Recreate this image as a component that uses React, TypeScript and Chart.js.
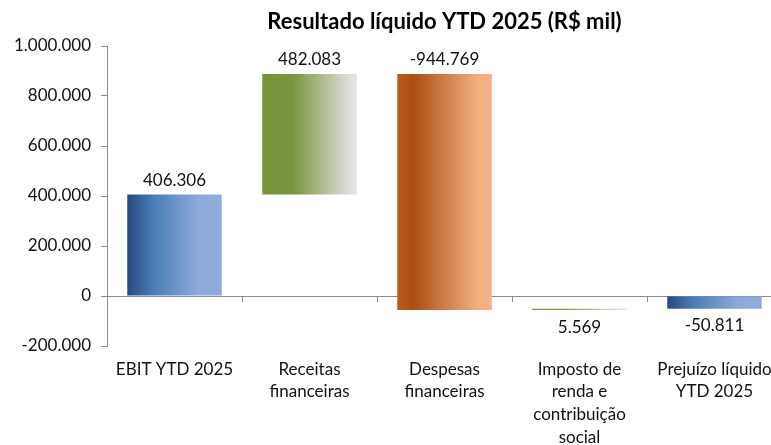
import React, { useEffect, useRef } from "react";
import { Chart, registerables } from "chart.js";

Chart.register(...registerables);

const categories: string[][] = [
  ["EBIT YTD 2025"],
  ["Receitas", "financeiras"],
  ["Despesas", "financeiras"],
  ["Imposto de", "renda e", "contribuição", "social"],
  ["Prejuízo líquido", "YTD 2025"],
];
const stepValues = [406306, 482083, -944769, 5569];
const resultValue = -50811;
const yTicks = [-200000, 0, 200000, 400000, 600000, 800000, 1000000];

const FONT = "Lato, 'Noto Sans', sans-serif";
const AXIS_GRAY = "#8a8a8a";

const BLUE: [number, string][] = [[0, "#2A4880"], [0.28, "#4A7EB6"], [0.75, "#8EA9DB"], [1, "#90ACDD"]];
const GREEN: [number, string][] = [[0, "#77933C"], [0.32, "#79953E"], [0.95, "#E2E2E2"], [1, "#E4E4E4"]];
const ORANGE: [number, string][] = [[0, "#B85C1E"], [0.17, "#AA4F12"], [0.85, "#F3B083"], [1, "#F4B183"]];
const barFills = [BLUE, GREEN, ORANGE, GREEN, BLUE];

function fmt(n: number): string {
  const s = Math.abs(n).toString().replace(/\B(?=(\d{3})+(?!\d))/g, ".");
  return (n < 0 ? "-" : "") + s;
}

// Build floating bars from the step values
const floats: [number, number][] = [];
const shownValues: number[] = [];
let running = 0;
stepValues.forEach((v) => {
  floats.push([running, running + v]);
  shownValues.push(v);
  running += v;
});
floats.push([0, resultValue]);
shownValues.push(resultValue);

const BAR_PCT = 0.7;

const decorPlugin = {
  id: "decor",
  beforeDatasetsDraw(chart: any) {
    const { ctx, chartArea, scales } = chart;
    const y0 = scales.y.getPixelForValue(0);
    ctx.save();
    ctx.strokeStyle = AXIS_GRAY;
    ctx.lineWidth = 1;
    ctx.beginPath();
    ctx.moveTo(chartArea.left, Math.round(y0) + 0.5);
    ctx.lineTo(chartArea.right, Math.round(y0) + 0.5);
    const n = categories.length;
    const cw = (chartArea.right - chartArea.left) / n;
    for (let i = 1; i <= n; i++) {
      const x = Math.round(chartArea.left + cw * i) + 0.5;
      ctx.moveTo(x, Math.round(y0));
      ctx.lineTo(x, Math.round(y0) + 6);
    }
    ctx.stroke();
    ctx.restore();
  },
  afterDatasetsDraw(chart: any) {
    const { ctx } = chart;
    const meta = chart.getDatasetMeta(0);
    ctx.save();
    ctx.font = `17px ${FONT}`;
    ctx.fillStyle = "#111";
    ctx.textAlign = "center";
    ctx.textBaseline = "middle";
    meta.data.forEach((el: any, i: number) => {
      const [a, b] = floats[i];
      const top = Math.min(el.y, el.base);
      const bottom = Math.max(el.y, el.base);
      const txt = fmt(shownValues[i]);
      if (Math.max(a, b) > 0) {
        ctx.fillText(txt, el.x, top - 14);
      } else {
        ctx.fillText(txt, el.x, bottom + 17);
      }
    });
    ctx.restore();
  },
};

export default function App() {
  const ref = useRef<HTMLCanvasElement | null>(null);

  useEffect(() => {
    if (!ref.current) return;
    const chart = new Chart(ref.current, {
      type: "bar",
      data: {
        labels: categories as any,
        datasets: [
          {
            data: floats as any,
            categoryPercentage: 1,
            barPercentage: BAR_PCT,
            borderWidth: 0,
            backgroundColor: (c: any) => {
              const chart = c.chart;
              const area = chart.chartArea;
              const i = c.dataIndex;
              if (!area || i === undefined) return "#4A7EB6";
              const xs = chart.scales.x;
              const cx = xs.getPixelForValue(i);
              const w = ((area.right - area.left) / categories.length) * BAR_PCT;
              const g = chart.ctx.createLinearGradient(cx - w / 2, 0, cx + w / 2, 0);
              barFills[i].forEach(([p, col]) => g.addColorStop(p, col));
              return g;
            },
          },
        ],
      },
      options: {
        responsive: true,
        maintainAspectRatio: false,
        animation: false,
        layout: { padding: { left: 0, right: 18, top: 0, bottom: 0 } },
        plugins: {
          legend: { display: false },
          tooltip: { enabled: false },
          title: {
            display: true,
            text: "Resultado líquido YTD 2025 (R$ mil)",
            fullSize: false,
            color: "#000",
            font: { family: FONT, size: 22, weight: "bold", lineHeight: 1.2 },
            padding: { top: 9, bottom: 10.6 },
          },
        },
        scales: {
          x: {
            grid: { display: false },
            border: { display: false },
            ticks: {
              color: "#111",
              font: { family: FONT, size: 17, lineHeight: 1.33 },
              maxRotation: 0,
              autoSkip: false,
              padding: 4,
            },
            afterFit: (s: any) => {
              s.height = 99;
            },
          },
          y: {
            min: -200000,
            max: 1000000,
            afterBuildTicks: (s: any) => {
              s.ticks = yTicks.map((v) => ({ value: v }));
            },
            grid: {
              drawOnChartArea: false,
              drawTicks: true,
              tickLength: 6,
              color: AXIS_GRAY,
            },
            border: { display: true, color: AXIS_GRAY },
            ticks: {
              color: "#111",
              font: { family: FONT, size: 17 },
              padding: 10,
              callback: (v: any) => fmt(Number(v)),
            },
            afterFit: (s: any) => {
              s.width = 107;
            },
          },
        },
      },
      plugins: [decorPlugin],
    });
    return () => chart.destroy();
  }, []);

  return (
    <div
      style={{
        position: "fixed",
        left: 0,
        top: 0,
        width: 771,
        height: 445,
        overflow: "hidden",
        background: "#fff",
      }}
    >
      <div style={{ position: "relative", width: 800, height: 445 }}>
        <canvas ref={ref} />
      </div>
    </div>
  );
}
